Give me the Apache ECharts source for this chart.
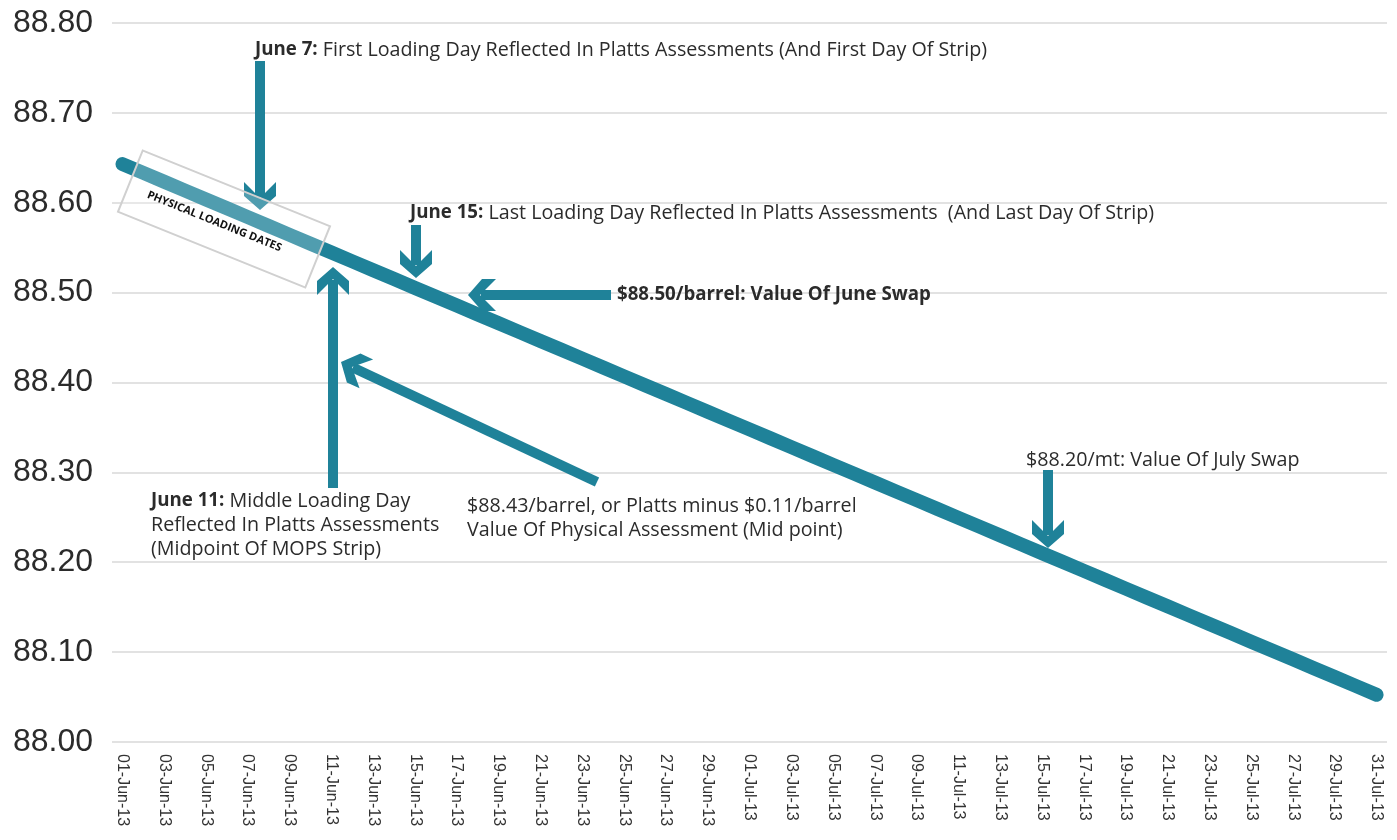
<!DOCTYPE html>
<html>
<head>
<meta charset="utf-8">
<script src="https://cdn.jsdelivr.net/npm/echarts@6/dist/echarts.min.js"></script>
<style>
  html, body { margin: 0; padding: 0; background: #fff; }
  #myChart { width: 1397px; height: 840px; }
</style>
</head>
<body>
<div id="myChart"></div>
<script>
// dates (daily, June-July 2013)
var days = [
  '01-Jun-13','02-Jun-13','03-Jun-13','04-Jun-13','05-Jun-13','06-Jun-13','07-Jun-13','08-Jun-13','09-Jun-13','10-Jun-13',
  '11-Jun-13','12-Jun-13','13-Jun-13','14-Jun-13','15-Jun-13','16-Jun-13','17-Jun-13','18-Jun-13','19-Jun-13','20-Jun-13',
  '21-Jun-13','22-Jun-13','23-Jun-13','24-Jun-13','25-Jun-13','26-Jun-13','27-Jun-13','28-Jun-13','29-Jun-13','30-Jun-13',
  '01-Jul-13','02-Jul-13','03-Jul-13','04-Jul-13','05-Jul-13','06-Jul-13','07-Jul-13','08-Jul-13','09-Jul-13','10-Jul-13',
  '11-Jul-13','12-Jul-13','13-Jul-13','14-Jul-13','15-Jul-13','16-Jul-13','17-Jul-13','18-Jul-13','19-Jul-13','20-Jul-13',
  '21-Jul-13','22-Jul-13','23-Jul-13','24-Jul-13','25-Jul-13','26-Jul-13','27-Jul-13','28-Jul-13','29-Jul-13','30-Jul-13',
  '31-Jul-13'
];
// forward curve values
var curveJune = [
  88.6430, 88.6332, 88.6233, 88.6135, 88.6036, 88.5938, 88.5840, 88.5741, 88.5643, 88.5544,
  88.5446, 88.5348, 88.5249, 88.5151, 88.5052, 88.4954, 88.4856, 88.4757, 88.4659, 88.4560,
  88.4462, 88.4364, 88.4265, 88.4167, 88.4068, 88.3970, 88.3872, 88.3773, 88.3675, 88.3576
];
var curveJuly = [
  88.3478, 88.3380, 88.3281, 88.3183, 88.3084, 88.2986, 88.2888, 88.2789, 88.2691, 88.2592,
  88.2494, 88.2396, 88.2297, 88.2199, 88.2100, 88.2002, 88.1904, 88.1805, 88.1707, 88.1608,
  88.1510, 88.1412, 88.1313, 88.1215, 88.1116, 88.1018, 88.0920, 88.0821, 88.0723, 88.0624,
  88.0526
];
var yMin = 88.0, yMax = 88.8, yStep = 0.1;

var teal = '#1f8299';
var txt = '#2b2b2b';
var annFont = '"Open Sans", Roboto, sans-serif';
var fs = 19.7, fsb = 18.7;

// chevron arrow from tail to tip (pixel coords, annotation only)
function arrow(tail, tip) {
  var dx = tail[0] - tip[0], dy = tail[1] - tip[1];
  var len = Math.sqrt(dx * dx + dy * dy);
  var ux = dx / len, uy = dy / len;   // back from tip
  var nx = -uy, ny = ux;
  function p(a, b) { return [tip[0] + ux * a + nx * b, tip[1] + uy * a + ny * b]; }
  return [
    { type: 'line', z: 20, shape: { x1: tail[0], y1: tail[1], x2: p(13, 0)[0], y2: p(13, 0)[1] },
      style: { stroke: teal, lineWidth: 10 } },
    { type: 'polygon', z: 20, shape: { points: [p(0, 0), p(14, 16), p(28, 16), p(12, 0), p(28, -16), p(14, -16)] },
      style: { fill: teal } }
  ];
}

var richB = { b: { fontWeight: 'bold', fontSize: fsb, fontFamily: annFont, fill: txt, lineHeight: 24 } };

function label(x, y, text, bold) {
  return {
    type: 'text', z: 30, x: x, y: y,
    style: {
      text: text, fill: txt, font: (bold ? 'bold ' + fsb : fs) + 'px ' + annFont,
      verticalAlign: 'middle', lineHeight: 24, rich: richB
    }
  };
}

var graphics = [];
graphics = graphics.concat(arrow([260, 61], [260, 210]));
graphics = graphics.concat(arrow([416, 225], [416, 278]));
graphics = graphics.concat(arrow([333, 488], [333, 267]));
graphics = graphics.concat(arrow([597, 482], [341, 362]));
graphics = graphics.concat(arrow([611, 295], [468, 295]));
graphics = graphics.concat(arrow([1048, 470], [1048, 548]));

graphics.push(label(255, 50, '{b|June 7:} First Loading Day Reflected In Platts Assessments (And First Day Of Strip)'));
graphics.push(label(410, 213, '{b|June 15:} Last Loading Day Reflected In Platts Assessments  (And Last Day Of Strip)'));
graphics.push(label(617, 295, '$88.50/barrel: Value Of June Swap', true));
graphics.push(label(1026, 460, '$88.20/mt: Value Of July Swap'));
graphics.push({
  type: 'text', z: 30, x: 151, y: 489,
  style: {
    text: '{b|June 11:} Middle Loading Day\nReflected In Platts Assessments\n(Midpoint Of MOPS Strip)',
    fill: txt, font: fs + 'px ' + annFont, lineHeight: 24, rich: richB
  }
});
graphics.push({
  type: 'text', z: 30, x: 467, y: 494,
  style: {
    text: '$88.43/barrel, or Platts minus $0.11/barrel\nValue Of Physical Assessment (Mid point)',
    fill: txt, font: fs + 'px ' + annFont, lineHeight: 24
  }
});
// physical loading dates box
graphics.push({
  type: 'group', z: 25, x: 224, y: 219, rotation: -22 * Math.PI / 180,
  children: [
    { type: 'rect', z: 25, shape: { x: -101, y: -33, width: 202, height: 66 },
      style: { fill: 'rgba(255,255,255,0.22)', stroke: '#d0d0d0', lineWidth: 2 } },
    { type: 'text', z: 26, x: -8, y: 6,
      style: { text: 'PHYSICAL LOADING DATES', fill: '#111', font: 'bold 11px "Open Sans", sans-serif',
               align: 'center', verticalAlign: 'middle' } }
  ]
});

var myChart = echarts.init(document.getElementById('myChart'));
var option = {
  backgroundColor: '#fff',
  animation: false,
  grid: { left: 112, right: 10, top: 23, bottom: 98 },
  xAxis: {
    type: 'category',
    data: days,
    boundaryGap: true,
    axisLine: { show: false },
    axisTick: { show: false },
    axisLabel: {
      interval: 1, rotate: -90, margin: 12,
      fontSize: 16, color: '#333', fontFamily: '"Liberation Sans", Arial, sans-serif'
    }
  },
  yAxis: {
    type: 'value',
    min: yMin, max: yMax, interval: yStep,
    axisLine: { show: false },
    axisTick: { show: false },
    splitLine: { lineStyle: { color: '#e2e2e2', width: 2 } },
    axisLabel: {
      margin: 19, fontSize: 32, color: '#2b2b2b',
      fontFamily: '"Liberation Sans", Arial, sans-serif',
      formatter: function (v) { return v.toFixed(2); }
    }
  },
  series: [{
    type: 'line',
    data: curveJune.concat(curveJuly),
    symbol: 'none',
    lineStyle: { color: teal, width: 14, cap: 'round', join: 'round' },
    z: 10
  }],
  graphic: graphics
};
myChart.setOption(option);
</script>
</body>
</html>
